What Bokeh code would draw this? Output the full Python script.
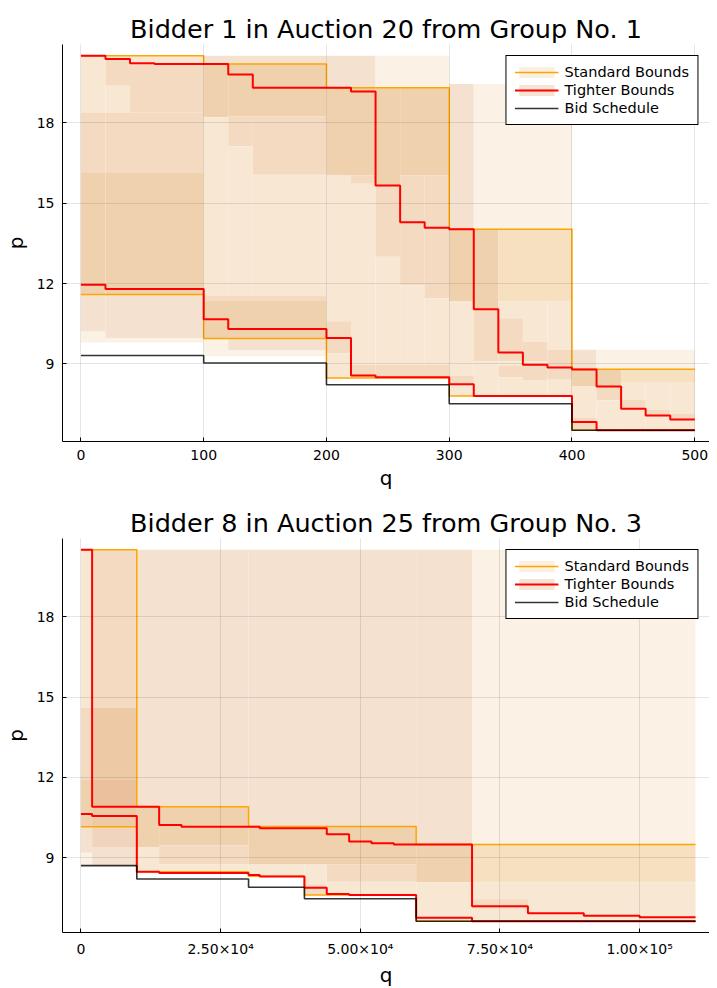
from bokeh.plotting import figure
from bokeh.layouts import column
from bokeh.models import FixedTicker, Range1d, Legend, LegendItem, ColumnDataSource
from bokeh.embed import file_html
from bokeh.resources import INLINE

FONT = "DejaVu Sans"

# ---------------- Plot 1 data ----------------
p1_title = "Bidder 1 in Auction 20 from Group No. 1"
p1_std_edges = [0, 100, 200, 300, 400, 500]
p1_std_upper = [20.51, 20.20, 19.31, 14.03, 8.80]
p1_std_lower = [11.59, 9.95, 8.47, 7.80, 6.52]
p1_bid = [9.31, 9.03, 8.22, 7.51, 6.52]
p1_tight_edges = [0, 20, 40, 60, 80, 100, 120, 140, 160, 180, 200, 220, 240, 260,
                  280, 300, 320, 340, 360, 380, 400, 420, 440, 460, 480, 500]
p1_tight_upper = [20.51, 20.39, 20.23, 20.20, 20.20, 20.20, 19.81, 19.31, 19.31, 19.31,
                  19.31, 19.17, 15.66, 14.29, 14.08, 14.03, 11.04, 9.42, 8.97, 8.86,
                  8.79, 8.15, 7.32, 7.07, 6.92]
p1_tight_lower = [11.96, 11.80, 11.80, 11.80, 11.80, 10.67, 10.30, 10.30, 10.30, 10.30,
                  9.97, 8.57, 8.50, 8.50, 8.50, 8.24, 7.80, 7.80, 7.80, 7.80,
                  6.83, 6.52, 6.52, 6.52, 6.52]
p1_xticks = [0, 100, 200, 300, 400, 500]
p1_xlabels = ["0", "100", "200", "300", "400", "500"]
# shaded bound regions: (q from, q to, p low, p high, tone)
p1_bands = [
    (0, 20, 18.39, 20.51, "L1"), (0, 20, 16.16, 18.39, "L2"), (0, 20, 11.59, 16.16, "L3"),
    (0, 20, 10.21, 11.59, "PK"), (0, 20, 9.80, 10.21, "W0"),
    (20, 40, 20.39, 20.51, "L1"), (20, 40, 19.39, 20.39, "L2"), (20, 40, 18.39, 19.39, "L1"),
    (40, 100, 20.23, 20.51, "L1"), (40, 100, 18.39, 20.23, "L2"),
    (20, 100, 16.16, 18.39, "L2"), (20, 100, 11.59, 16.16, "L3"),
    (20, 100, 9.96, 11.59, "PK"), (20, 100, 9.80, 9.96, "W0"),
    (100, 200, 20.20, 20.51, "PK"),
    (100, 120, 18.21, 20.20, "L3"), (100, 120, 11.55, 18.21, "L1"),
    (120, 200, 18.25, 20.20, "L3"),
    (120, 140, 17.13, 18.25, "L2"), (120, 140, 11.55, 17.13, "L1"),
    (140, 200, 16.06, 18.25, "L2"), (140, 200, 11.55, 16.06, "L1"),
    (100, 200, 11.35, 11.55, "L2"), (100, 200, 9.96, 11.35, "L3"),
    (100, 120, 9.28, 9.96, "W0"), (120, 200, 9.50, 9.96, "PK"), (120, 200, 9.28, 9.50, "W0"),
    (200, 240, 19.31, 20.51, "PK"), (200, 240, 16.04, 19.31, "L3"),
    (200, 220, 10.59, 16.04, "L1"), (200, 220, 9.40, 10.59, "L2"), (200, 220, 8.47, 9.40, "L1"),
    (220, 240, 15.73, 16.04, "L2"), (220, 240, 8.96, 15.73, "L1"), (220, 240, 8.47, 8.96, "L2"),
    (240, 300, 19.32, 20.51, "W0"),
    (240, 260, 15.66, 19.32, "L3"), (240, 260, 13.00, 15.66, "L2"), (240, 260, 8.96, 13.00, "L1"),
    (260, 300, 16.04, 19.32, "L3"),
    (260, 280, 11.94, 16.04, "L2"), (260, 280, 8.96, 11.94, "L1"),
    (280, 300, 11.45, 16.04, "L2"), (280, 300, 8.96, 11.45, "L1"),
    (240, 300, 8.50, 8.96, "L2"),
    (300, 320, 14.06, 19.45, "PK"), (300, 320, 11.33, 14.06, "L3"), (300, 320, 8.56, 11.33, "L1"),
    (300, 320, 8.20, 8.56, "L2"), (300, 320, 7.80, 8.20, "L1"),
    (320, 400, 14.03, 19.45, "W0"),
    (320, 340, 11.05, 14.03, "L3"), (320, 340, 9.10, 11.05, "L2"), (320, 340, 7.80, 9.10, "L1"),
    (340, 400, 11.33, 14.03, "OY"),
    (340, 360, 10.70, 11.33, "L1"), (340, 360, 9.10, 10.70, "L2"), (340, 360, 8.93, 9.10, "L1"),
    (340, 360, 8.50, 8.93, "L2"), (340, 360, 7.80, 8.50, "L1"),
    (360, 380, 9.83, 11.33, "L1"), (360, 380, 9.10, 9.83, "L2"), (360, 380, 8.96, 9.10, "L1"),
    (360, 380, 8.40, 8.96, "L2"), (360, 380, 7.80, 8.40, "L1"),
    (380, 400, 9.53, 11.33, "L1"), (380, 400, 8.41, 9.53, "L2"), (380, 400, 7.80, 8.41, "L1"),
    (400, 420, 8.79, 9.53, "PK"), (400, 420, 8.15, 8.79, "L3"), (400, 420, 6.98, 8.15, "L1"),
    (400, 420, 6.52, 6.98, "L2"),
    (420, 500, 8.80, 9.53, "W0"),
    (420, 440, 8.15, 8.80, "L3"), (420, 440, 7.64, 8.15, "L2"), (420, 440, 6.52, 7.64, "L1"),
    (440, 500, 8.29, 8.80, "OY"),
    (440, 460, 7.66, 8.29, "L1"), (440, 460, 7.32, 7.66, "L2"), (440, 460, 6.52, 7.32, "L1"),
    (460, 480, 7.29, 8.29, "L1"), (460, 480, 7.07, 7.29, "L2"), (460, 480, 6.52, 7.07, "L1"),
    (480, 500, 7.14, 8.29, "L1"), (480, 500, 6.92, 7.14, "L2"), (480, 500, 6.52, 6.92, "L1"),
]

# ---------------- Plot 2 data ----------------
p2_title = "Bidder 8 in Auction 25 from Group No. 3"
p2_std_edges = [0, 10000, 30000, 40000, 60000, 110000]
p2_std_upper = [20.51, 10.90, 10.16, 10.16, 9.49]
p2_std_lower = [10.15, 8.47, 8.30, 7.60, 6.62]
p2_bid = [8.70, 8.20, 7.89, 7.46, 6.62]
p2_tight_edges = [0, 2000, 10000, 14000, 18000, 30000, 32000, 40000, 44000, 48000,
                  52000, 56000, 60000, 70000, 80000, 90000, 100000, 110000]
p2_tight_upper = [20.51, 10.90, 10.90, 10.22, 10.15, 10.15, 10.10, 10.10, 9.87, 9.60,
                  9.54, 9.49, 9.49, 7.18, 6.92, 6.83, 6.77]
p2_tight_lower = [10.63, 10.56, 8.47, 8.42, 8.42, 8.35, 8.29, 7.87, 7.64, 7.60,
                  7.60, 7.60, 6.75, 6.62, 6.62, 6.62, 6.62]
p2_xticks = [0, 25000, 50000, 75000, 100000]
p2_xlabels = ["0", "2.50×10⁴", "5.00×10⁴", "7.50×10⁴", "1.00×10⁵"]
p2_bands = [
    (0, 2000, 14.60, 20.51, "L1"), (0, 2000, 11.93, 14.60, "L2"), (0, 2000, 10.15, 11.93, "L3"),
    (0, 2000, 9.18, 10.15, "PK"), (0, 2000, 8.70, 9.18, "W0"),
    (2000, 10000, 14.60, 20.51, "L2"), (2000, 10000, 11.93, 14.60, "D1"),
    (2000, 10000, 10.90, 11.93, "D2"), (2000, 10000, 10.15, 10.90, "D1"),
    (2000, 10000, 9.40, 10.15, "PD"), (2000, 10000, 8.70, 9.40, "PK"),
    (10000, 30000, 10.90, 20.51, "PK"), (30000, 60000, 10.16, 20.51, "PK"),
    (60000, 70000, 9.49, 20.51, "PK"), (70000, 110000, 9.49, 20.51, "W0"),
    (10000, 14000, 9.40, 10.90, "L3"), (10000, 14000, 8.47, 9.40, "L1"),
    (14000, 30000, 9.45, 10.90, "L3"), (14000, 30000, 8.74, 9.45, "L2"),
    (14000, 30000, 8.42, 8.74, "L1"),
    (30000, 60000, 8.74, 10.16, "L3"), (30000, 40000, 8.30, 8.74, "L1"),
    (40000, 44000, 8.00, 8.74, "L1"), (40000, 44000, 7.60, 8.00, "L2"),
    (44000, 60000, 8.10, 8.74, "L2"), (44000, 60000, 7.60, 8.10, "L1"),
    (60000, 70000, 8.08, 9.49, "L3"), (60000, 70000, 6.62, 8.08, "L1"),
    (70000, 110000, 8.08, 9.49, "OY"), (70000, 110000, 6.62, 8.08, "L1"),
    (70000, 80000, 7.10, 7.43, "L2"),
]

yticks = [9, 12, 15, 18]

TONES = {"W0": "#fbf1e4", "PK": "#f4e1cf", "L1": "#f8e8d3", "L2": "#f3dac0",
         "L3": "#f0d1ad", "OY": "#f7e0bf", "D1": "#edc9a5", "D2": "#eac19c",
         "PD": "#f1d4be"}


def steps(edges, vals):
    return list(edges), list(vals) + [vals[-1]]


def make_plot(title, xr, yr, bands, std_edges, std_upper, std_lower, bid,
              t_edges, t_upper, t_lower, xticks, xlabels, fh, top, bottom):
    p = figure(frame_width=647, frame_height=fh, min_border_left=54, min_border_right=0,
               min_border_top=top, min_border_bottom=bottom,
               x_range=Range1d(*xr), y_range=Range1d(*yr),
               output_backend="svg", toolbar_location=None, title=title)
    p.title.text_font = FONT
    p.title.text_font_size = "25.5px"
    p.title.text_font_style = "normal"
    p.title.text_color = "black"
    p.title.align = "center"
    p.title.standoff = 2
    p.outline_line_color = None

    src = ColumnDataSource(dict(
        left=[b[0] for b in bands], right=[b[1] for b in bands],
        bottom=[b[2] for b in bands], top=[b[3] for b in bands],
        color=[TONES[b[4]] for b in bands]))
    p.quad(left="left", right="right", bottom="bottom", top="top", source=src,
           fill_color="color", line_color=None)

    # legend swatches (kept outside the visible range)
    far = xr[0] - 10 * (xr[1] - xr[0])
    std_patch = p.quad(left=[far], right=[far], bottom=[yr[0]], top=[yr[0]],
                       fill_color="#fbefdf", line_color=None)
    t_patch = p.quad(left=[far], right=[far], bottom=[yr[0]], top=[yr[0]],
                     fill_color="#f5e3d6", line_color=None)

    x, y = steps(std_edges, std_upper)
    std_line = p.step(x, y, mode="after", line_color="#ffa500", line_width=1.5)
    x, y = steps(std_edges, std_lower)
    p.step(x, y, mode="after", line_color="#ffa500", line_width=1.5)
    x, y = steps(t_edges, t_upper)
    t_line = p.step(x, y, mode="after", line_color="#ff0000", line_width=2)
    x, y = steps(t_edges, t_lower)
    p.step(x, y, mode="after", line_color="#ff0000", line_width=2)
    x, y = steps(std_edges, bid)
    bid_line = p.step(x, y, mode="after", line_color="black", line_alpha=0.8, line_width=1.6)

    legend = Legend(items=[
        LegendItem(label="Standard Bounds", renderers=[std_patch, std_line]),
        LegendItem(label="Tighter Bounds", renderers=[t_patch, t_line]),
        LegendItem(label="Bid Schedule", renderers=[bid_line]),
    ], location="top_right")
    legend.label_text_font = FONT
    legend.label_text_font_size = "14.5px"
    legend.label_text_color = "black"
    legend.glyph_width = 44
    legend.glyph_height = 14
    legend.label_height = 14
    legend.spacing = 2
    legend.padding = 8
    legend.margin = 11
    legend.label_standoff = 6
    legend.border_line_color = "black"
    legend.border_line_width = 1
    legend.border_line_alpha = 1
    legend.background_fill_alpha = 1
    p.add_layout(legend)

    p.xaxis.ticker = FixedTicker(ticks=xticks)
    p.xaxis.major_label_overrides = {t: l for t, l in zip(xticks, xlabels)}
    p.yaxis.ticker = FixedTicker(ticks=yticks)
    for ax in (p.xaxis, p.yaxis):
        ax.major_label_text_font = FONT
        ax.major_label_text_font_size = "14px"
        ax.major_label_text_color = "black"
        ax.axis_label_text_font = FONT
        ax.axis_label_text_font_size = "20px"
        ax.axis_label_text_font_style = "normal"
        ax.axis_label_text_color = "black"
        ax.axis_line_color = "black"
        ax.major_tick_line_color = "black"
        ax.major_tick_in = 4
        ax.major_tick_out = 0
        ax.minor_tick_line_color = None
        ax.major_label_standoff = 8
    p.xaxis.axis_label_standoff = 3
    p.yaxis.axis_label_standoff = 6
    p.xaxis.axis_label = "q"
    p.yaxis.axis_label = "p"

    for g in (p.xgrid, p.ygrid):
        g.grid_line_color = "black"
        g.grid_line_alpha = 0.1
        g.level = "overlay"
    return p


p1 = make_plot(p1_title, (-15, 512), (6.10, 20.93), p1_bands, p1_std_edges, p1_std_upper,
               p1_std_lower, p1_bid, p1_tight_edges, p1_tight_upper, p1_tight_lower,
               p1_xticks, p1_xlabels, 397, 44, 55)
p2 = make_plot(p2_title, (-3300, 112500), (6.20, 20.93), p2_bands, p2_std_edges, p2_std_upper,
               p2_std_lower, p2_bid, p2_tight_edges, p2_tight_upper, p2_tight_lower,
               p2_xticks, p2_xlabels, 394, 42, 48)

layout = column(p1, p2, spacing=0)
open("out.html", "w").write(file_html(layout, INLINE))
